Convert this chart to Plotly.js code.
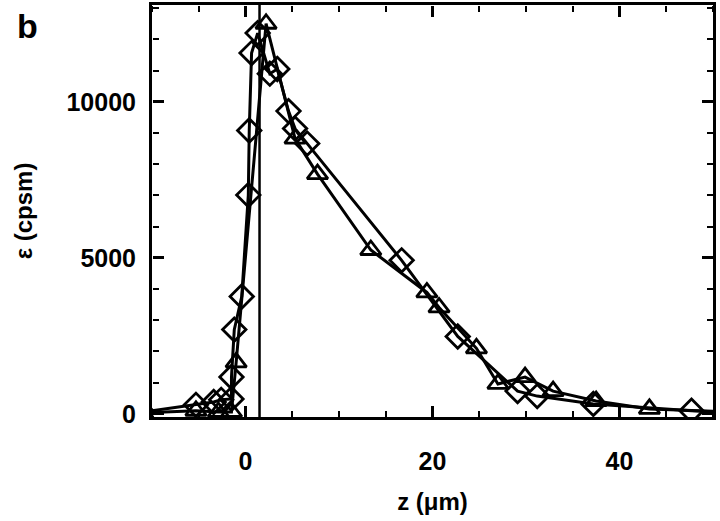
<!DOCTYPE html>
<html>
<head>
<meta charset="utf-8">
<script src="https://cdn.plot.ly/plotly-3.0.1.min.js"></script>
<style>
  html, body { margin: 0; padding: 0; background: #fff; }
  #plot { width: 720px; height: 521px; }
</style>
</head>
<body>
<div id="plot"></div>
<script>
  // diamond profile
  var zDiamond = [-11, -5.3, -3.4, -2.6, -1.5, -1.5, -1.2, -0.4, 0.3, 0.4, 0.65, 1.3, 2.6, 3.4, 4.6, 5.3, 6.6, 16.7, 22.7, 29.1, 31.2, 37.2, 47.7, 52];
  var eDiamond = [60, 290, 380, 450, 480, 1180, 2700, 3760, 7010, 9080, 11560, 12200, 10900, 11050, 9700, 9140, 8660, 4920, 2480, 730, 570, 320, 100, 40];

  // triangle profile
  var zTriangle = [-11, -5.3, -2.9, -1.5, -1.0, 2.2, 5.3, 7.7, 13.4, 19.4, 20.7, 24.7, 27.0, 29.9, 32.9, 37.5, 43.2, 52];
  var eTriangle = [30, 100, 60, 60, 1650, 12500, 8820, 7680, 5250, 3890, 3410, 2100, 960, 1180, 730, 410, 160, 60];

  // interface position (um)
  var zInterface = 1.5;

  var xRange = [-10, 50];
  var yRange = [-100, 13100];

  var lineStyle = {color: '#000', width: 3};
  var tickFont = {family: 'Liberation Sans, Arial, sans-serif', size: 25, color: '#000', weight: 'bold'};
  var titleFont = {family: 'Liberation Sans, Arial, sans-serif', size: 24, color: '#000', weight: 'bold'};

  var triangles = {
    x: zTriangle, y: eTriangle, mode: 'lines+markers', type: 'scatter',
    line: lineStyle, cliponaxis: true,
    marker: {symbol: 'triangle-up-open', size: 18, color: '#000', line: {color: '#000', width: 2.8}}
  };
  var diamonds = {
    x: zDiamond, y: eDiamond, mode: 'lines+markers', type: 'scatter',
    xaxis: 'x2', yaxis: 'y2',
    line: lineStyle, cliponaxis: true,
    marker: {symbol: 'diamond-open', size: 18, color: '#000', line: {color: '#000', width: 2.8}}
  };
  var interfaceLine = {
    x: [zInterface, zInterface], y: yRange, mode: 'lines', type: 'scatter',
    xaxis: 'x3', yaxis: 'y3',
    line: {color: '#000', width: 2.5}
  };

  // inside ticks don't draw here, so put "outside" ticks on free overlay axes facing inward
  function tickAxis(base, side, pos, dtick, minorDtick) {
    return {
      overlaying: base, side: side, anchor: 'free', position: pos,
      range: base === 'x' ? xRange : yRange,
      tickmode: 'linear', tick0: 0, dtick: dtick,
      ticks: 'outside', ticklen: 11, tickwidth: 3, tickcolor: 'black',
      minor: {tickmode: 'linear', dtick: minorDtick, ticks: 'outside', ticklen: 6, tickwidth: 2, tickcolor: 'black'},
      showticklabels: false, showline: false, showgrid: false, zeroline: false,
      fixedrange: true
    };
  }

  var layout = {
    width: 720, height: 521,
    margin: {l: 152, r: 7, t: 5, b: 104},
    paper_bgcolor: '#fff', plot_bgcolor: '#fff',
    showlegend: false,
    xaxis: {
      range: xRange, tickmode: 'linear', tick0: 0, dtick: 20,
      ticks: '', showline: true, linewidth: 3, linecolor: 'black', mirror: true,
      showgrid: false, zeroline: false,
      tickfont: tickFont, ticklabelstandoff: 20,
      title: {text: 'z (\u03bcm)', font: titleFont, standoff: 20}
    },
    yaxis: {
      range: yRange, tickmode: 'linear', tick0: 0, dtick: 5000, tickformat: 'd',
      ticks: '', showline: true, linewidth: 3, linecolor: 'black', mirror: true,
      showgrid: false, zeroline: false,
      tickfont: tickFont, ticklabelstandoff: 8,
      title: {text: '\u03b5 (cpsm)', font: titleFont, standoff: 28}
    },
    xaxis2: tickAxis('x', 'top', 0, 20, 5),
    xaxis3: tickAxis('x', 'bottom', 1, 20, 5),
    yaxis2: tickAxis('y', 'right', 0, 5000, 1000),
    yaxis3: tickAxis('y', 'left', 1, 5000, 1000),
    annotations: [{
      text: 'b', xref: 'paper', yref: 'paper', x: -0.245, y: 1.0,
      xanchor: 'left', yanchor: 'top', showarrow: false,
      font: {family: 'Liberation Sans, Arial, sans-serif', size: 34, color: '#000', weight: 'bold'}
    }]
  };

  Plotly.newPlot('plot', [triangles, diamonds, interfaceLine], layout, {displayModeBar: false});
</script>
</body>
</html>
